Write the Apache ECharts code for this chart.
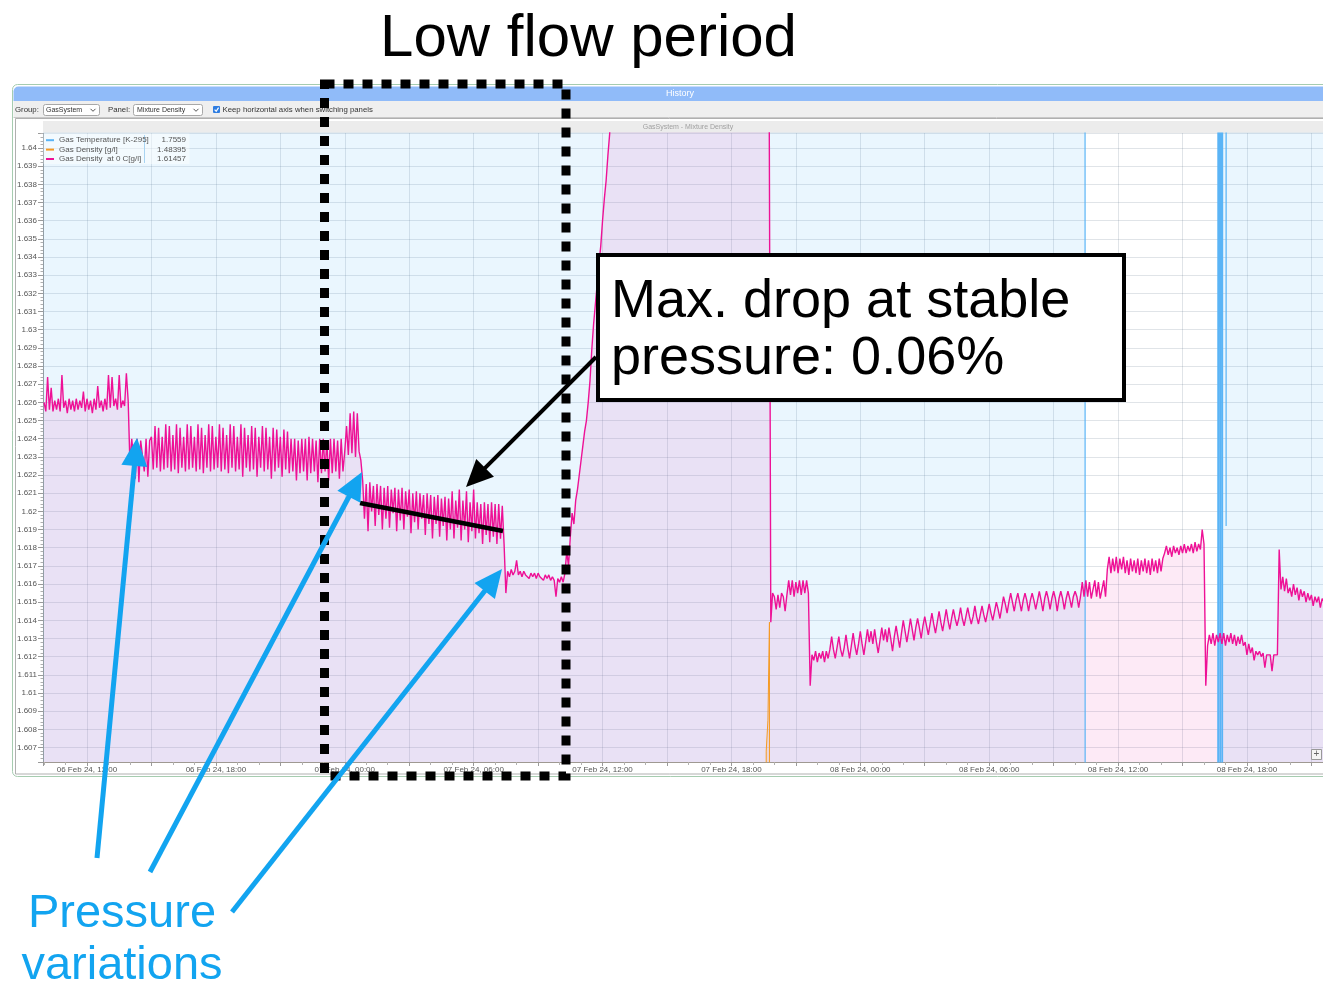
<!DOCTYPE html>
<html>
<head>
<meta charset="utf-8">
<script src="https://cdn.jsdelivr.net/npm/echarts@6/dist/echarts.min.js"></script>
<style>
  html, body { margin: 0; padding: 0; background: #fff; }
  #chart { width: 1323px; height: 984px; }
</style>
</head>
<body>
<div id="chart"></div>
<script>
// ---- Data -----------------------------------------------------------------
// Hours are counted from 06 Feb 24, 00:00. The mixture density trace is logged
// every 5 minutes; each block below starts at the hour given in segmentStartHours.
const sampleStepHours = 1 / 12;
const segmentStartHours = [10.0, 14.0, 24 + 50 / 60, 31.5, 34.25, 36 + 25 / 60,
                           43 + 50 / 60, 45 + 40 / 60, 59.5, 64 + 5 / 60, 67.5];

// Gas Density at 0 C [g/l]
const from06Feb1000 = [
  1.6260,1.6255,1.6274,1.6256,1.6268,1.6255,1.6261,1.6256,1.6262,1.6255,1.6275,1.6257,
  1.6261,1.6254,1.6262,1.6256,1.6261,1.6255,1.6262,1.6256,1.6261,1.6257,1.6266,1.6255,
  1.6262,1.6256,1.6261,1.6254,1.6262,1.6256,1.6269,1.6257,1.6261,1.6255,1.6262,1.6256,
  1.6275,1.6257,1.6274,1.6258,1.6262,1.6256,1.6275,1.6257,1.6261,1.6258,1.6276,1.6261
];
const from06Feb1400 = [
  1.6226,1.6240,1.6239,1.6218,1.6240,1.6216,1.6239,1.6240,1.6222,1.6240,1.6219,1.6239,
  1.6241,1.6223,1.6247,1.6224,1.6246,1.6222,1.6241,1.6223,1.6248,1.6224,1.6247,1.6222,
  1.6242,1.6223,1.6248,1.6221,1.6246,1.6224,1.6241,1.6222,1.6248,1.6223,1.6247,1.6224,
  1.6241,1.6222,1.6248,1.6223,1.6246,1.6221,1.6242,1.6224,1.6248,1.6222,1.6247,1.6223,
  1.6241,1.6224,1.6248,1.6222,1.6246,1.6223,1.6242,1.6221,1.6248,1.6224,1.6247,1.6222,
  1.6241,1.6223,1.6248,1.6219,1.6246,1.6224,1.6242,1.6222,1.6247,1.6223,1.6246,1.6219,
  1.6241,1.6224,1.6247,1.6222,1.6246,1.6223,1.6241,1.6218,1.6246,1.6222,1.6245,1.6224,
  1.6241,1.6219,1.6245,1.6223,1.6244,1.6221,1.6240,1.6222,1.6240,1.6217,1.6239,1.6221,
  1.6240,1.6222,1.6240,1.6217,1.6241,1.6221,1.6240,1.6222,1.6239,1.6216,1.6240,1.6221,
  1.6240,1.6222,1.6239,1.6217,1.6240,1.6221,1.6240,1.6222,1.6239,1.6218,1.6240,1.6222,
  1.6233,1.6247,1.6231,1.6254,1.6232,1.6255,1.6230,1.6254,1.6233,1.6228
];
const from07Feb0050 = [
  1.6217,1.6196,1.6215,1.6189,1.6216,1.6200,1.6214,1.6192,1.6215,1.6198,
  1.6214,1.6190,1.6213,1.6196,1.6214,1.6191,1.6212,1.6199,1.6213,1.6189,
  1.6212,1.6195,1.6213,1.6190,1.6211,1.6197,1.6212,1.6188,1.6210,1.6194,
  1.6211,1.6190,1.6210,1.6196,1.6209,1.6187,1.6210,1.6193,1.6209,1.6185,
  1.6208,1.6193,1.6209,1.6186,1.6207,1.6192,1.6208,1.6184,1.6207,1.6190,
  1.6211,1.6185,1.6206,1.6191,1.6212,1.6184,1.6206,1.6190,1.6211,1.6183,
  1.6205,1.6189,1.6212,1.6185,1.6205,1.6188,1.6204,1.6182,1.6205,1.6187,
  1.6204,1.6183,1.6205,1.6186,1.6204,1.6182,1.6204,1.6185,1.6203,1.6182
];
const from07Feb0730 = [
  1.6155,1.6167,1.6164,1.6168,1.6165,1.6167,1.6173,1.6165,1.6167,1.6164,1.6167,
  1.6165,1.6166,1.6163,1.6166,1.6164,1.6166,1.6163,1.6166,1.6164,1.6165,1.6162,
  1.6165,1.6163,1.6165,1.6162,1.6164,1.6162,1.6153,1.6163,1.6161,1.6164,1.6161
];
const from07Feb1015 = [
  1.6166,1.6178,1.6170,1.6186,1.6199,1.6193,1.6206,1.6212,1.6220,1.6228,1.6236,1.6244,1.6250,
  1.6260,1.6272,1.6289,1.6303,1.6314,1.6325,1.6336,1.6346,1.6360,1.6372,1.6382,1.6396,1.6408
];
// above the top of the scale
const from07Feb1225 = [
  1.646,1.646,1.646,1.646,1.646,1.646,1.646,1.646,1.646,1.646,1.646,1.646,1.646,1.646,1.646,
  1.646,1.646,1.646,1.646,1.646,1.646,1.646,1.646,1.646,1.646,1.646,1.646,1.646,1.646,1.646,
  1.646,1.646,1.646,1.646,1.646,1.646,1.646,1.646,1.646,1.646,1.646,1.646,1.646,1.646,1.646,
  1.646,1.646,1.646,1.646,1.646,1.646,1.646,1.646,1.646,1.646,1.646,1.646,1.646,1.646,1.646,
  1.646,1.646,1.646,1.646,1.646,1.646,1.646,1.646,1.646,1.646,1.646,1.646,1.646,1.646,1.646,
  1.646,1.646,1.646,1.646,1.646,1.646,1.646,1.646,1.646,1.646,1.646,1.646,1.646,1.646
];
const from07Feb1950 = [
  1.6139,1.6155,1.6153,1.6146,1.6154,1.6147,1.6155,1.6153,1.6145,1.6154,1.6162,
  1.6154,1.6162,1.6153,1.6161,1.6155,1.6162,1.6154,1.6162,1.6155,1.6162,1.6155
];
const from07Feb2140 = [
  1.6104,1.6121,1.6118,1.6123,1.6117,1.6122,1.6119,1.6123,1.6117,1.6123,1.6119,1.6124,
  1.6131,1.6124,1.6119,1.6125,1.6131,1.6124,1.6120,1.6125,1.6132,1.6125,1.6119,1.6126,
  1.6133,1.6126,1.6121,1.6127,1.6134,1.6127,1.6121,1.6128,1.6135,1.6128,1.6134,1.6127,
  1.6135,1.6128,1.6122,1.6129,1.6136,1.6129,1.6135,1.6128,1.6136,1.6130,1.6123,1.6131,
  1.6137,1.6131,1.6125,1.6133,1.6140,1.6134,1.6128,1.6134,1.6141,1.6135,1.6129,1.6136,
  1.6141,1.6136,1.6130,1.6137,1.6142,1.6137,1.6132,1.6138,1.6144,1.6138,1.6133,1.6139,
  1.6145,1.6139,1.6134,1.6140,1.6146,1.6140,1.6135,1.6141,1.6146,1.6141,1.6137,1.6141,
  1.6147,1.6141,1.6137,1.6142,1.6147,1.6142,1.6138,1.6142,1.6148,1.6142,1.6138,1.6143,
  1.6148,1.6143,1.6139,1.6144,1.6149,1.6144,1.6140,1.6145,1.6150,1.6146,1.6141,1.6147,
  1.6153,1.6149,1.6144,1.6150,1.6155,1.6150,1.6145,1.6151,1.6155,1.6150,1.6145,1.6151,
  1.6155,1.6151,1.6145,1.6151,1.6155,1.6151,1.6146,1.6151,1.6156,1.6151,1.6145,1.6152,
  1.6156,1.6152,1.6146,1.6152,1.6156,1.6152,1.6145,1.6152,1.6156,1.6152,1.6146,1.6152,
  1.6156,1.6152,1.6147,1.6153,1.6156,1.6153,1.6147,1.6153,1.6161,1.6153,1.6162,1.6153,
  1.6161,1.6152,1.6153,1.6162,1.6153,1.6161,1.6152,1.6153,1.6162,1.6153
];
const from08Feb1130 = [
  1.6168,1.6175,1.6166,1.6174,1.6167,1.6175,1.6166,1.6174,1.6168,1.6175,1.6166,
  1.6173,1.6165,1.6174,1.6167,1.6173,1.6166,1.6174,1.6165,1.6173,1.6167,1.6174,
  1.6166,1.6173,1.6165,1.6174,1.6167,1.6173,1.6166,1.6174,1.6167,1.6174,1.6177,
  1.6181,1.6176,1.6180,1.6175,1.6181,1.6177,1.6180,1.6176,1.6181,1.6177,1.6182,
  1.6177,1.6181,1.6178,1.6182,1.6177,1.6183,1.6178,1.6182,1.6179,1.6190,1.6182
];
const from08Feb1605 = [
  1.6104,1.6126,1.6132,1.6127,1.6133,1.6126,1.6132,1.6128,1.6133,1.6127,1.6133,
  1.6126,1.6132,1.6128,1.6133,1.6127,1.6132,1.6126,1.6131,1.6127,1.6132,1.6126,
  1.6128,1.6121,1.6127,1.6122,1.6125,1.6118,1.6123,1.6121,1.6123,1.6120,1.6122,
  1.6114,1.6121,1.6120,1.6121,1.6112,1.6121,1.6120,1.6121
];
const from08Feb1930 = [
  1.6179,1.6157,1.6164,1.6156,1.6163,1.6155,1.6158,1.6153,1.6160,1.6154,1.6158,1.6151,1.6157,
  1.6153,1.6156,1.6150,1.6155,1.6151,1.6154,1.6148,1.6153,1.6150,1.6153,1.6147,1.6152,1.6150
];
const densityAt0CBlocks = [from06Feb1000, from06Feb1400, from07Feb0050, from07Feb0730, from07Feb1015,
                           from07Feb1225, from07Feb1950, from07Feb2140, from08Feb1130, from08Feb1605,
                           from08Feb1930];

// Gas Temperature [K-295]: logged only at its change points
const temperatureHours  = [9.95, 58.45, 58.47, 64.64, 64.66, 64.70, 64.74, 64.78, 64.82, 64.86, 64.88, 65.02, 65.03, 65.04, 69.6];
const temperatureValues = [1.7559, 1.7559, 1.5800, 1.5800, 1.7559, 1.5800, 1.7559, 1.5800, 1.7559, 1.5800, 1.7559, 1.7559, 1.6192, 1.7559, 1.7559];

// Gas Density [g/l]: logged only at its change points
const gasDensityHours  = [9.95, 43.55, 43.62, 43.70, 43.77, 43.80, 69.6];
const gasDensityValues = [1.4840, 1.5200, 1.6068, 1.6085, 1.6139, 1.4840, 1.4840];

const seriesNames  = ['Gas Temperature [K-295]', 'Gas Density [g/l]', 'Gas Density  at 0 C[g/l]'];
const legendValues = ['1.7559', '1.48395', '1.61457'];

const xLabelHours = [12, 18, 24, 30, 36, 42, 48, 54, 60, 66];
const xLabelTexts = ['06 Feb 24, 12:00', '06 Feb 24, 18:00', '07 Feb 24, 00:00', '07 Feb 24, 06:00',
                     '07 Feb 24, 12:00', '07 Feb 24, 18:00', '08 Feb 24, 00:00', '08 Feb 24, 06:00',
                     '08 Feb 24, 12:00', '08 Feb 24, 18:00'];

const xMinHour = 9.952, xMaxHour = 69.54;
const yMin = 1.6062, yMax = 1.64083;

// ---- Series building -------------------------------------------------------
const densityAt0CPoints = [];
densityAt0CBlocks.forEach((block, b) => {
  block.forEach((v, i) => densityAt0CPoints.push([segmentStartHours[b] + i * sampleStepHours, v]));
});
const temperaturePoints = temperatureHours.map((h, i) => [h, temperatureValues[i]]);
const gasDensityPoints  = gasDensityHours.map((h, i) => [h, gasDensityValues[i]]);

const FONT = '"Liberation Sans", Arial, Helvetica, sans-serif';
const BLUE = '#12a4f0';

function txt(str, x, baseline, size, color, align) {
  return {
    type: 'text', z: 100, silent: true,
    style: {
      text: str, x: x, y: baseline - 0.31 * size, fill: color,
      font: size + 'px ' + FONT, align: align || 'left', verticalAlign: 'middle'
    }
  };
}
function uiText(str, x, y, size, color, align) {
  return { type: 'text', z: 5, silent: true,
    style: { text: str, x: x, y: y, fill: color, font: size + 'px ' + FONT,
             align: align || 'left', verticalAlign: 'middle' } };
}
function arrow(tail, tip, color, width, headLen, headW) {
  const dx = tip[0] - tail[0], dy = tip[1] - tail[1];
  const L = Math.hypot(dx, dy), ux = dx / L, uy = dy / L;
  const bx = tip[0] - ux * headLen, by = tip[1] - uy * headLen;
  const px = -uy * headW / 2, py = ux * headW / 2;
  return [
    { type: 'line', z: 100, silent: true,
      shape: { x1: tail[0], y1: tail[1], x2: bx + ux * 2, y2: by + uy * 2 },
      style: { stroke: color, lineWidth: width } },
    { type: 'polygon', z: 100, silent: true,
      shape: { points: [[tip[0], tip[1]], [bx + px, by + py], [bx - px, by - py]] },
      style: { fill: color } }
  ];
}
function chevron(cx, cy) {
  return { type: 'polyline', z: 5, silent: true,
    shape: { points: [[cx - 2.5, cy - 1.2], [cx, cy + 1.3], [cx + 2.5, cy - 1.2]] },
    style: { stroke: '#555', lineWidth: 1, fill: 'none' } };
}

// ---- Window chrome -----------------------------------------------------------
const chrome = [
  { type: 'rect', z: 1, silent: true, shape: { x: 13.5, y: 86.5, width: 1340, height: 14.5, r: [5, 0, 0, 0] },
    style: { fill: '#90bbf9' } },
  uiText('History', 680, 94, 9, '#ffffff', 'center'),
  { type: 'rect', z: 1, silent: true, shape: { x: 13.5, y: 101, width: 1340, height: 16.5 },
    style: { fill: '#efefef' } },
  uiText('Group:', 15, 110, 7.8, '#333'),
  { type: 'rect', z: 4, silent: true, shape: { x: 43.5, y: 104.5, width: 56, height: 11, r: 2 },
    style: { fill: '#fff', stroke: '#a8a8a8', lineWidth: 1 } },
  uiText('GasSystem', 46, 110, 7, '#333'),
  chevron(93, 110),
  uiText('Panel:', 108, 110, 7.8, '#333'),
  { type: 'rect', z: 4, silent: true, shape: { x: 133.5, y: 104.5, width: 69, height: 11, r: 2 },
    style: { fill: '#fff', stroke: '#a8a8a8', lineWidth: 1 } },
  uiText('Mixture Density', 137, 110, 7, '#333'),
  chevron(196, 110),
  { type: 'rect', z: 4, silent: true, shape: { x: 213, y: 106, width: 7, height: 7, r: 1 },
    style: { fill: '#2f7de1' } },
  { type: 'polyline', z: 5, silent: true, shape: { points: [[214.6, 109.6], [216.2, 111.3], [218.6, 107.6]] },
    style: { stroke: '#fff', lineWidth: 1.2, fill: 'none' } },
  uiText('Keep horizontal axis when switching panels', 222.5, 110, 7.8, '#333'),
  { type: 'line', z: 1, silent: true, shape: { x1: 13.5, y1: 117.5, x2: 1340, y2: 117.5 },
    style: { stroke: '#c8c8c8', lineWidth: 1 } },
  { type: 'rect', z: 1, silent: true, shape: { x: 15.5, y: 118.5, width: 1340, height: 655.5 },
    style: { fill: 'none', stroke: '#b0b0b0', lineWidth: 1 } },
  { type: 'rect', z: 1, silent: true, shape: { x: 12.5, y: 84.5, width: 1340, height: 692, r: 5 },
    style: { fill: 'none', stroke: '#a6ccb0', lineWidth: 1 } },
  { type: 'rect', z: 1, silent: true, shape: { x: 43, y: 121, width: 1290, height: 12 },
    style: { fill: '#ececec' } },
  uiText('GasSystem - Mixture Density', 688, 127, 7, '#a0a0a0', 'center'),
  // legend panel behind the legend entries
  { type: 'rect', z: 3, silent: true, shape: { x: 43.5, y: 133.5, width: 146, height: 30.5 },
    style: { fill: 'rgba(255,255,255,0.45)' } },
  { type: 'line', z: 3, silent: true, shape: { x1: 144.5, y1: 135, x2: 144.5, y2: 163 },
    style: { stroke: '#a9d4f2', lineWidth: 1 } },
  // zoom button in the plot corner
  { type: 'rect', z: 5, silent: true, shape: { x: 1311.5, y: 749.5, width: 10, height: 10 },
    style: { fill: '#f5f5f5', stroke: '#999', lineWidth: 1 } },
  uiText('+', 1316.5, 754.5, 10, '#666', 'center')
];

// ---- Annotations ------------------------------------------------------------
const notes = [
  { type: 'rect', z: 100, silent: true, shape: { x: 324.5, y: 84, width: 241.5, height: 692 },
    style: { fill: 'none', stroke: '#000', lineWidth: 9, lineDash: [10, 9] } },
  txt('Low flow period', 588.5, 58, 60, '#000', 'center'),
  { type: 'rect', z: 100, silent: true, shape: { x: 598, y: 255, width: 526, height: 145 },
    style: { fill: '#fff', stroke: '#000', lineWidth: 4 } },
  txt('Max. drop at stable', 611, 319, 54, '#000'),
  txt('pressure: 0.06%', 611, 376, 54, '#000'),
  { type: 'line', z: 100, silent: true, shape: { x1: 360, y1: 503, x2: 503, y2: 531 },
    style: { stroke: '#000', lineWidth: 4.5 } },
  ...arrow([596, 357], [466, 487], '#000', 4, 27, 25),
  ...arrow([97, 858], [137, 438], BLUE, 5, 28, 26),
  ...arrow([150, 872], [362, 472], BLUE, 5, 28, 26),
  ...arrow([232, 912], [502, 569], BLUE, 5, 28, 26),
  txt('Pressure', 122, 929, 47, BLUE, 'center'),
  txt('variations', 122, 981, 47, BLUE, 'center')
];

// ---- Chart -------------------------------------------------------------------
const chart = echarts.init(document.getElementById('chart'), null, { renderer: 'canvas' });
const axisText = { color: '#555', fontSize: 8, fontFamily: FONT };
const gridLine = { show: true, lineStyle: { color: 'rgba(100,120,140,0.2)', width: 1 } };

chart.setOption({
  animation: false,
  backgroundColor: '#ffffff',
  grid: { left: 43, right: 0, top: 133, bottom: 222, containLabel: false, outerBoundsMode: 'none' },
  legend: {
    data: seriesNames,
    orient: 'vertical',
    left: 46, top: 135.5,
    padding: 0, itemGap: 0,
    itemWidth: 8, itemHeight: 2, icon: 'rect',
    selectedMode: false,
    z: 4,
    formatter: name => '{n|' + name + '}{v|' + legendValues[seriesNames.indexOf(name)] + '}',
    textStyle: {
      fontFamily: FONT, fontSize: 8, color: '#555', lineHeight: 9.4,
      rich: {
        n: { width: 92, fontSize: 8, lineHeight: 9.4, color: '#555', fontFamily: FONT },
        v: { width: 35, align: 'right', fontSize: 8, lineHeight: 9.4, color: '#555', fontFamily: FONT }
      }
    }
  },
  xAxis: {
    type: 'value',
    min: xMinHour, max: xMaxHour,
    minInterval: 3, maxInterval: 3, splitNumber: 20,
    axisLine: { show: true, onZero: false, lineStyle: { color: '#9a9a9a' } },
    axisTick: { show: true, length: 4, lineStyle: { color: '#9a9a9a' } },
    minorTick: { show: true, splitNumber: 3, length: 3, lineStyle: { color: '#b0b0b0' } },
    splitLine: gridLine,
    axisLabel: Object.assign({
      margin: 4, showMinLabel: false, showMaxLabel: false, hideOverlap: false,
      formatter: v => {
        const k = xLabelHours.indexOf(Math.round(v * 1000) / 1000);
        return k < 0 ? '' : xLabelTexts[k];
      }
    }, axisText)
  },
  yAxis: {
    type: 'value',
    min: yMin, max: yMax,
    minInterval: 0.001, maxInterval: 0.001, splitNumber: 34,
    axisLine: { show: true, lineStyle: { color: '#9a9a9a' } },
    axisTick: { show: true, length: 5, lineStyle: { color: '#9a9a9a' } },
    minorTick: { show: true, splitNumber: 5, length: 2.5, lineStyle: { color: '#b0b0b0' } },
    splitLine: gridLine,
    axisLabel: Object.assign({ margin: 6, showMinLabel: false, showMaxLabel: false, hideOverlap: false }, axisText)
  },
  series: [
    {
      name: seriesNames[0], type: 'line', data: temperaturePoints,
      symbol: 'none', showSymbol: false, clip: true, z: 2,
      color: '#5ab4f6',
      lineStyle: { color: '#5ab4f6', width: 1.2 },
      areaStyle: { color: 'rgba(90,185,245,0.18)', origin: 'start' }
    },
    {
      name: seriesNames[1], type: 'line', data: gasDensityPoints,
      symbol: 'none', showSymbol: false, clip: true, z: 2,
      color: '#f59a23',
      lineStyle: { color: '#f59a23', width: 1 },
      areaStyle: { color: 'rgba(245,154,35,0.18)', origin: 'start' }
    },
    {
      name: seriesNames[2], type: 'line', data: densityAt0CPoints,
      symbol: 'none', showSymbol: false, clip: true, z: 2,
      color: '#ee1196',
      lineStyle: { color: '#ee1196', width: 1.4 },
      areaStyle: { color: 'rgba(238,17,150,0.13)', origin: 'start' }
    }
  ],
  graphic: { elements: chrome.concat(notes) }
});
</script>
</body>
</html>
